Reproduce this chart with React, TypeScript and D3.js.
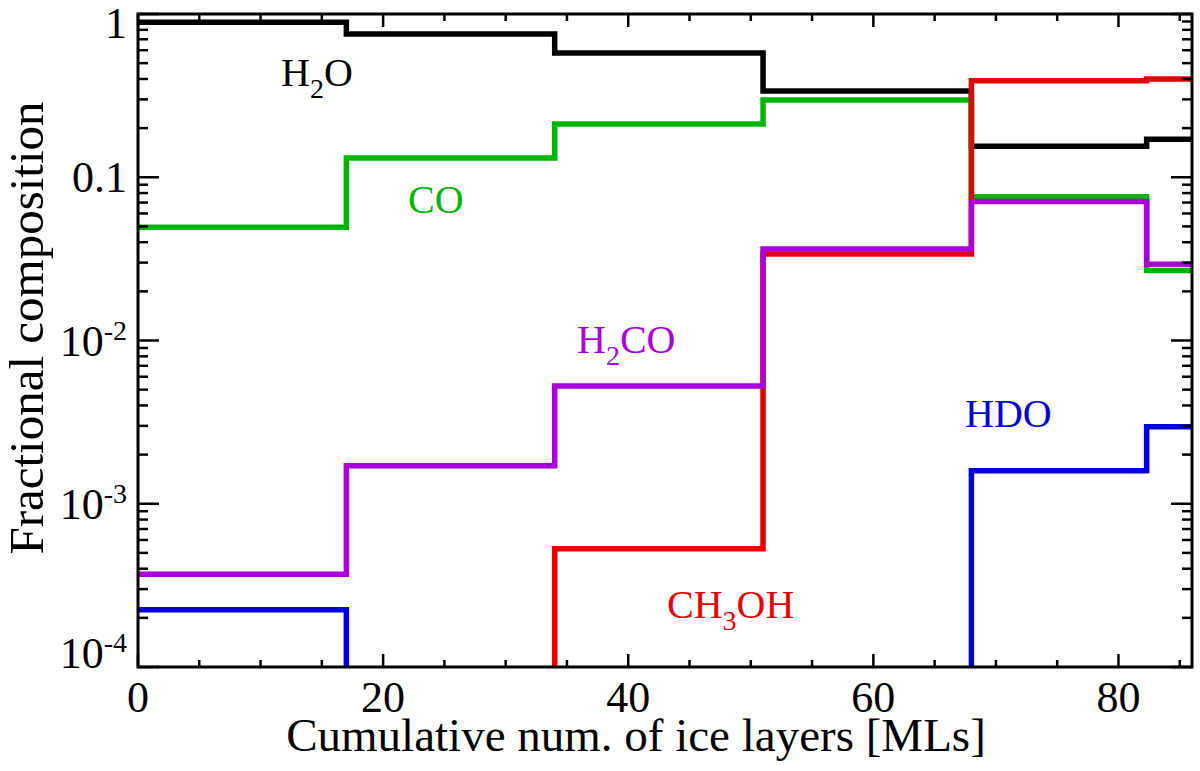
import React from 'react';
import * as d3 from 'd3';

// bin edges in MLs (last entry closes the final bin)
const edges = [0, 17, 34, 51, 68, 82.3, 86];

// fractional composition per bin (values < 1e-4 fall off the plot)
const h2o = [0.89, 0.755, 0.577, 0.338, 0.155, 0.171];
const co = [0.0494, 0.131, 0.212, 0.297, 0.076, 0.0268];
const ch3oh = [1e-6, 1e-6, 5.3e-4, 0.0339, 0.39, 0.40];
const h2co = [3.7e-4, 1.71e-3, 5.27e-3, 0.0364, 0.071, 0.0293];
const hdo = [2.24e-4, 1e-6, 1e-6, 1e-6, 1.59e-3, 2.96e-3];

const xTicks = [0, 20, 40, 60, 80];
const yTicks = [1, 0.1, 0.01, 0.001, 0.0001];
const yTickBase = ['1', '0.1', '10', '10', '10'];
const yTickSup = ['', '', '-2', '-3', '-4'];

const width = 1200;
const height = 771;
const margin = { top: 14, right: 8, bottom: 104, left: 138 };

const series = [
  { name: 'h2o', values: h2o, color: '#000000' },
  { name: 'co', values: co, color: '#00b400' },
  { name: 'ch3oh', values: ch3oh, color: '#e60000' },
  { name: 'h2co', values: h2co, color: '#aa00d8' },
  { name: 'hdo', values: hdo, color: '#0000dc' },
];

const font = '"Liberation Serif", "Times New Roman", serif';

export default function App() {
  const x = d3.scaleLinear()
    .domain([0, 86])
    .range([margin.left, width - margin.right]);
  const y = d3.scaleLog()
    .domain([1e-4, 1])
    .range([height - margin.bottom, margin.top]);

  const x0 = x.range()[0], x1 = x.range()[1];
  const yb = y.range()[0], yt = y.range()[1];

  const line = d3.line<[number, number]>()
    .x(d => x(d[0]))
    .y(d => y(d[1]))
    .curve(d3.curveStepAfter);

  const pts = (vals: number[]): [number, number][] => {
    const p: [number, number][] = vals.map((v, i) => [edges[i], v]);
    p.push([edges[edges.length - 1], vals[vals.length - 1]]);
    return p;
  };

  const xMinor = d3.range(0, 86, 5).filter(v => v % 20 !== 0);
  const yMinor: number[] = [];
  for (let e = -4; e < 0; e++) {
    for (let m = 2; m <= 9; m++) yMinor.push(m * Math.pow(10, e));
  }

  return (
    <svg width={width} height={height} style={{ position: 'absolute', left: 0, top: 0, background: '#fff' }}>
      <defs>
        <clipPath id="plot-clip">
          <rect x={x0} y={yt} width={x1 - x0} height={yb - yt} />
        </clipPath>
      </defs>

      <g clipPath="url(#plot-clip)">
        {series.map(s => (
          <path key={s.name} d={line(pts(s.values)) || ''} fill="none"
            stroke={s.color} strokeWidth={5.5} strokeLinejoin="miter" />
        ))}
      </g>

      {/* ticks */}
      <g stroke="#000" strokeWidth={2.5}>
        {xTicks.map(t => (
          <g key={'xt' + t}>
            <line x1={x(t)} x2={x(t)} y1={yb} y2={yb - 13} />
            <line x1={x(t)} x2={x(t)} y1={yt} y2={yt + 13} />
          </g>
        ))}
        {xMinor.map(t => (
          <g key={'xm' + t}>
            <line x1={x(t)} x2={x(t)} y1={yb} y2={yb - 7} />
            <line x1={x(t)} x2={x(t)} y1={yt} y2={yt + 7} />
          </g>
        ))}
        {yTicks.map(t => (
          <g key={'yt' + t}>
            <line x1={x0} x2={x0 + 21} y1={y(t)} y2={y(t)} />
            <line x1={x1} x2={x1 - 21} y1={y(t)} y2={y(t)} />
          </g>
        ))}
        {yMinor.map(t => (
          <g key={'ym' + t}>
            <line x1={x0} x2={x0 + 10} y1={y(t)} y2={y(t)} />
            <line x1={x1} x2={x1 - 10} y1={y(t)} y2={y(t)} />
          </g>
        ))}
      </g>

      <rect x={x0} y={yt} width={x1 - x0} height={yb - yt} fill="none" stroke="#000" strokeWidth={3} />

      {/* tick labels */}
      {xTicks.map(t => (
        <text key={'xl' + t} x={x(t)} y={yb + 45} textAnchor="middle"
          fontFamily={font} fontSize={44} fill="#000">{t}</text>
      ))}
      {yTicks.map((t, i) => {
        const base = Math.min(Math.max(y(t) + 15, yt + 24), yb + 1);
        return (
          <text key={'yl' + t} x={127} y={base} textAnchor="end"
            fontFamily={font} fontSize={44} fill="#000">
            {yTickBase[i]}
            {yTickSup[i] && <tspan fontSize={28} dy={-16}>{yTickSup[i]}</tspan>}
          </text>
        );
      })}

      {/* axis titles */}
      <text x={636} y={751} textAnchor="middle" fontFamily={font} fontSize={47}>
        Cumulative num. of ice layers [MLs]
      </text>
      <text transform="translate(43,328) rotate(-90)" textAnchor="middle" fontFamily={font} fontSize={49}>
        Fractional composition
      </text>

      {/* species labels */}
      <text x={281} y={86} fill="#000" fontFamily={font} fontSize={40}>
        H<tspan fontSize={28} dy={12}>2</tspan><tspan dy={-12}>O</tspan>
      </text>
      <text x={408} y={213} fill="#00b400" fontFamily={font} fontSize={40}>CO</text>
      <text x={577} y={353} fill="#aa00d8" fontFamily={font} fontSize={40}>
        H<tspan fontSize={28} dy={12}>2</tspan><tspan dy={-12}>CO</tspan>
      </text>
      <text x={667} y={618} fill="#e60000" fontFamily={font} fontSize={40}>
        CH<tspan fontSize={28} dy={12}>3</tspan><tspan dy={-12}>OH</tspan>
      </text>
      <text x={965} y={427} fill="#0000dc" fontFamily={font} fontSize={40}>HDO</text>
    </svg>
  );
}
